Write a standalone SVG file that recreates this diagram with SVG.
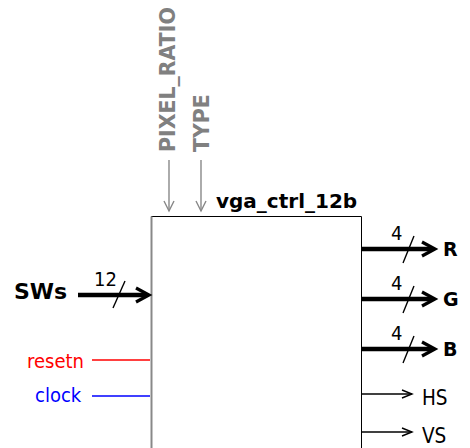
<svg xmlns="http://www.w3.org/2000/svg" width="470" height="448" viewBox="0 0 470 448">
  <defs>
    <marker id="headBus" markerUnits="userSpaceOnUse" viewBox="-16 -10 20 20" markerWidth="20" markerHeight="20" refX="0" refY="0" orient="auto" overflow="visible">
      <path d="M-13,-7 L0,0 L-13,7" fill="none" stroke="#000" stroke-width="3.2" stroke-linejoin="miter"/>
    </marker>
    <marker id="headWire" markerUnits="userSpaceOnUse" viewBox="-12 -6 14 12" markerWidth="14" markerHeight="12" refX="0" refY="0" orient="auto" overflow="visible">
      <path d="M-10,-4 L0,0 L-10,4" fill="none" stroke="#000" stroke-width="1.4"/>
    </marker>
    <marker id="headGray" markerUnits="userSpaceOnUse" viewBox="-12 -6 14 12" markerWidth="14" markerHeight="12" refX="0" refY="0" orient="auto" overflow="visible">
      <path d="M-10,-5 L0,0 L-10,5" fill="none" stroke="#888" stroke-width="1.4"/>
    </marker>
  </defs>
  <style>
    .bold { font-family: "DejaVu Sans", "Liberation Sans", sans-serif; font-weight: bold; }
    .reg { font-family: "DejaVu Sans Condensed", "DejaVu Sans", sans-serif; font-stretch: condensed; }
    .param { fill: #808080; font-size: 20.5px; }
    .num { font-size: 20px; }
    .bus { stroke: #000; stroke-width: 4.6; fill: none; }
    .wire { stroke: #000; stroke-width: 1.4; fill: none; }
    .slash { stroke: #000; stroke-width: 1.4; fill: none; }
    .gray { stroke: #888; stroke-width: 1.4; fill: none; }
  </style>

  <!-- module block -->
  <g id="vga_ctrl_12b">
    <path d="M151.5,448 V216.5 H361.5 V448" fill="#fff" stroke="#000" stroke-width="1"/>
    <path d="M151.5,216.5 V448" stroke="#888" stroke-width="2"/>
    <text class="bold" x="216" y="208" font-size="20">vga_ctrl_12b</text>
  </g>

  <!-- generics -->
  <g id="PIXEL_RATIO">
    <text class="bold param" transform="translate(175,152) rotate(-90)">PIXEL_RATIO</text>
  </g>
  <g id="TYPE">
    <text class="bold param" transform="translate(209,152) rotate(-90)">TYPE</text>
  </g>

  <!-- input ports -->
  <g id="SWs">
    <text class="bold" x="14" y="299" font-size="22">SWs</text>
  </g>
  <g id="resetn">
    <text class="reg" x="27" y="368" font-size="20" fill="#ff0000">resetn</text>
  </g>
  <g id="clock">
    <text class="reg" x="35" y="402" font-size="20" fill="#0000ff">clock</text>
  </g>

  <!-- output ports -->
  <g id="R"><text class="bold" x="443" y="256" font-size="19">R</text></g>
  <g id="G"><text class="bold" x="443" y="306" font-size="19">G</text></g>
  <g id="B"><text class="bold" x="443" y="356" font-size="19">B</text></g>
  <g id="HS"><text class="reg" x="422" y="405" font-size="20.5">HS</text></g>
  <g id="VS"><text class="reg" x="422" y="443" font-size="20.5">VS</text></g>

  <!-- connectors -->
  <g id="connectors">
    <path class="gray" d="M169,160 V211" marker-end="url(#headGray)"/>
    <path class="gray" d="M201,160 V211" marker-end="url(#headGray)"/>

    <path class="bus" d="M78,295 H146" />
    <path d="M78,295 H149" fill="none" stroke="none" marker-end="url(#headBus)"/>
    <path class="slash" d="M113,308 L125,281"/>
    <text class="reg num" x="94" y="286">12</text>

    <path d="M92,360 H150" stroke="#ff0000" stroke-width="1.6" fill="none"/>
    <path d="M92,396 H150" stroke="#0000ff" stroke-width="1.6" fill="none"/>

    <path class="bus" d="M362,249 H432"/>
    <path d="M362,249 H435" fill="none" stroke="none" marker-end="url(#headBus)"/>
    <path class="slash" d="M403,263 L414,236"/>
    <text class="reg num" x="391" y="240">4</text>

    <path class="bus" d="M362,299 H432"/>
    <path d="M362,299 H435" fill="none" stroke="none" marker-end="url(#headBus)"/>
    <path class="slash" d="M403,313 L414,286"/>
    <text class="reg num" x="391" y="290">4</text>

    <path class="bus" d="M362,349 H432"/>
    <path d="M362,349 H435" fill="none" stroke="none" marker-end="url(#headBus)"/>
    <path class="slash" d="M403,363 L414,336"/>
    <text class="reg num" x="391" y="340">4</text>

    <path class="wire" d="M362,394 H412" marker-end="url(#headWire)"/>
    <path class="wire" d="M362,432 H412" marker-end="url(#headWire)"/>
  </g>
</svg>
